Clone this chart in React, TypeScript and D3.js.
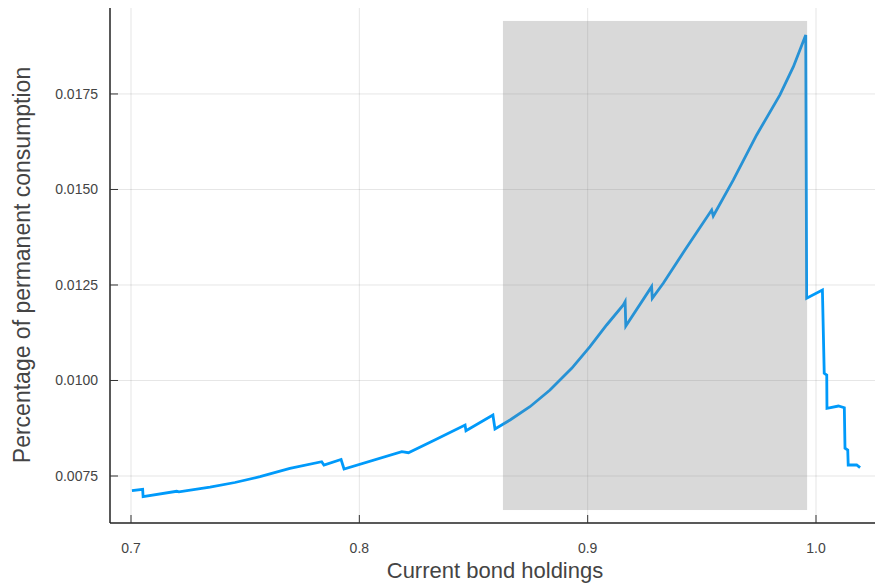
import React from "react";
import * as d3 from "d3";

const bondX = [
  0.7004, 0.7051, 0.7053, 0.72, 0.721, 0.7346, 0.7455, 0.7565, 0.7696, 0.7835, 0.7845,
  0.792, 0.7933, 0.8186, 0.8215, 0.8337, 0.8463, 0.8467, 0.8585, 0.8594, 0.866,
  0.8747, 0.8835, 0.893, 0.901, 0.9083, 0.9156, 0.9164, 0.9167, 0.928, 0.9283,
  0.9331, 0.9426, 0.9543, 0.955, 0.9638, 0.974, 0.9842, 0.9901, 0.9955,
  0.9959, 1.0028, 1.0036, 1.0047, 1.0048, 1.0098, 1.0124, 1.0127, 1.0139, 1.0141,
  1.0178, 1.0193,
];
const pctY = [
  0.007115, 0.007152, 0.006958, 0.0071, 0.007085, 0.007212, 0.00733, 0.007482, 0.0077, 0.007874, 0.007788,
  0.007932, 0.007683, 0.008136, 0.00811, 0.00846, 0.008835, 0.008686, 0.009097, 0.00873, 0.008966,
  0.009314, 0.009751, 0.010319, 0.010885, 0.011453, 0.011976, 0.012063, 0.011427, 0.012456, 0.012152,
  0.012545, 0.013416, 0.014463, 0.014306, 0.015249, 0.016427, 0.017474, 0.018215, 0.019045,
  0.012152, 0.012369, 0.010188, 0.010144, 0.009272, 0.009332, 0.009288, 0.008225, 0.008181, 0.007788,
  0.007788, 0.007717,
];
const spanX = [0.8629, 0.9961];
const spanY = [0.00661, 0.019411];
const xTicks = [0.7, 0.8, 0.9, 1.0];
const yTicks = [0.0075, 0.01, 0.0125, 0.015, 0.0175];

const W = 875;
const H = 585;
const L = 110;
const R = 882;
const T = 8;
const B = 523;

export default function App() {
  const x = d3.scaleLinear().domain([0.6908, 1.0289]).range([L, R]);
  const y = d3.scaleLinear().domain([0.00627, 0.01975]).range([B, T]);
  const pts: [number, number][] = bondX.map((v, i) => [v, pctY[i]]);
  const line = d3
    .line<[number, number]>()
    .x((d) => x(d[0]))
    .y((d) => y(d[1]));
  const font = "'Liberation Sans', Arial, Helvetica, sans-serif";
  return (
    <svg
      width={W}
      height={H}
      style={{ position: "absolute", left: 0, top: 0, background: "#fff" }}
      fontFamily={font}
    >
      <rect x={0} y={0} width={W} height={H} fill="#fff" />
      {xTicks.map((t) => (
        <line key={"gx" + t} x1={x(t)} x2={x(t)} y1={T} y2={B} stroke="#000" strokeOpacity={0.1} strokeWidth={1} />
      ))}
      {yTicks.map((t) => (
        <line key={"gy" + t} x1={L} x2={R} y1={y(t)} y2={y(t)} stroke="#000" strokeOpacity={0.1} strokeWidth={1} />
      ))}
      <path d={line(pts) || ""} fill="none" stroke="#009AFA" strokeWidth={2.8} strokeLinejoin="miter" strokeMiterlimit={4} />
      <rect
        x={x(spanX[0])}
        y={y(spanY[1])}
        width={x(spanX[1]) - x(spanX[0])}
        height={y(spanY[0]) - y(spanY[1])}
        fill="rgb(128,128,128)"
        fillOpacity={0.3}
      />
      <line x1={L} x2={L} y1={T} y2={B} stroke="#222" strokeWidth={1.5} />
      <line x1={L} x2={R} y1={B} y2={B} stroke="#222" strokeWidth={1.5} />
      {xTicks.map((t) => (
        <g key={"tx" + t}>
          <line x1={x(t)} x2={x(t)} y1={B} y2={B - 8} stroke="#333" strokeWidth={1} />
          <text x={x(t)} y={553} textAnchor="middle" fontSize={14} fill="#444">
            {t.toFixed(1)}
          </text>
        </g>
      ))}
      {yTicks.map((t) => (
        <g key={"ty" + t}>
          <line x1={L} x2={L + 8} y1={y(t)} y2={y(t)} stroke="#333" strokeWidth={1} />
          <text x={98} y={y(t) + 5} textAnchor="end" fontSize={14} fill="#444">
            {t.toFixed(4)}
          </text>
        </g>
      ))}
      <text x={495} y={578} textAnchor="middle" fontSize={22} fill="#444">
        Current bond holdings
      </text>
      <text
        transform={`translate(30, 265) rotate(-90)`}
        textAnchor="middle"
        fontSize={23}
        fill="#444"
      >
        Percentage of permanent consumption
      </text>
    </svg>
  );
}
